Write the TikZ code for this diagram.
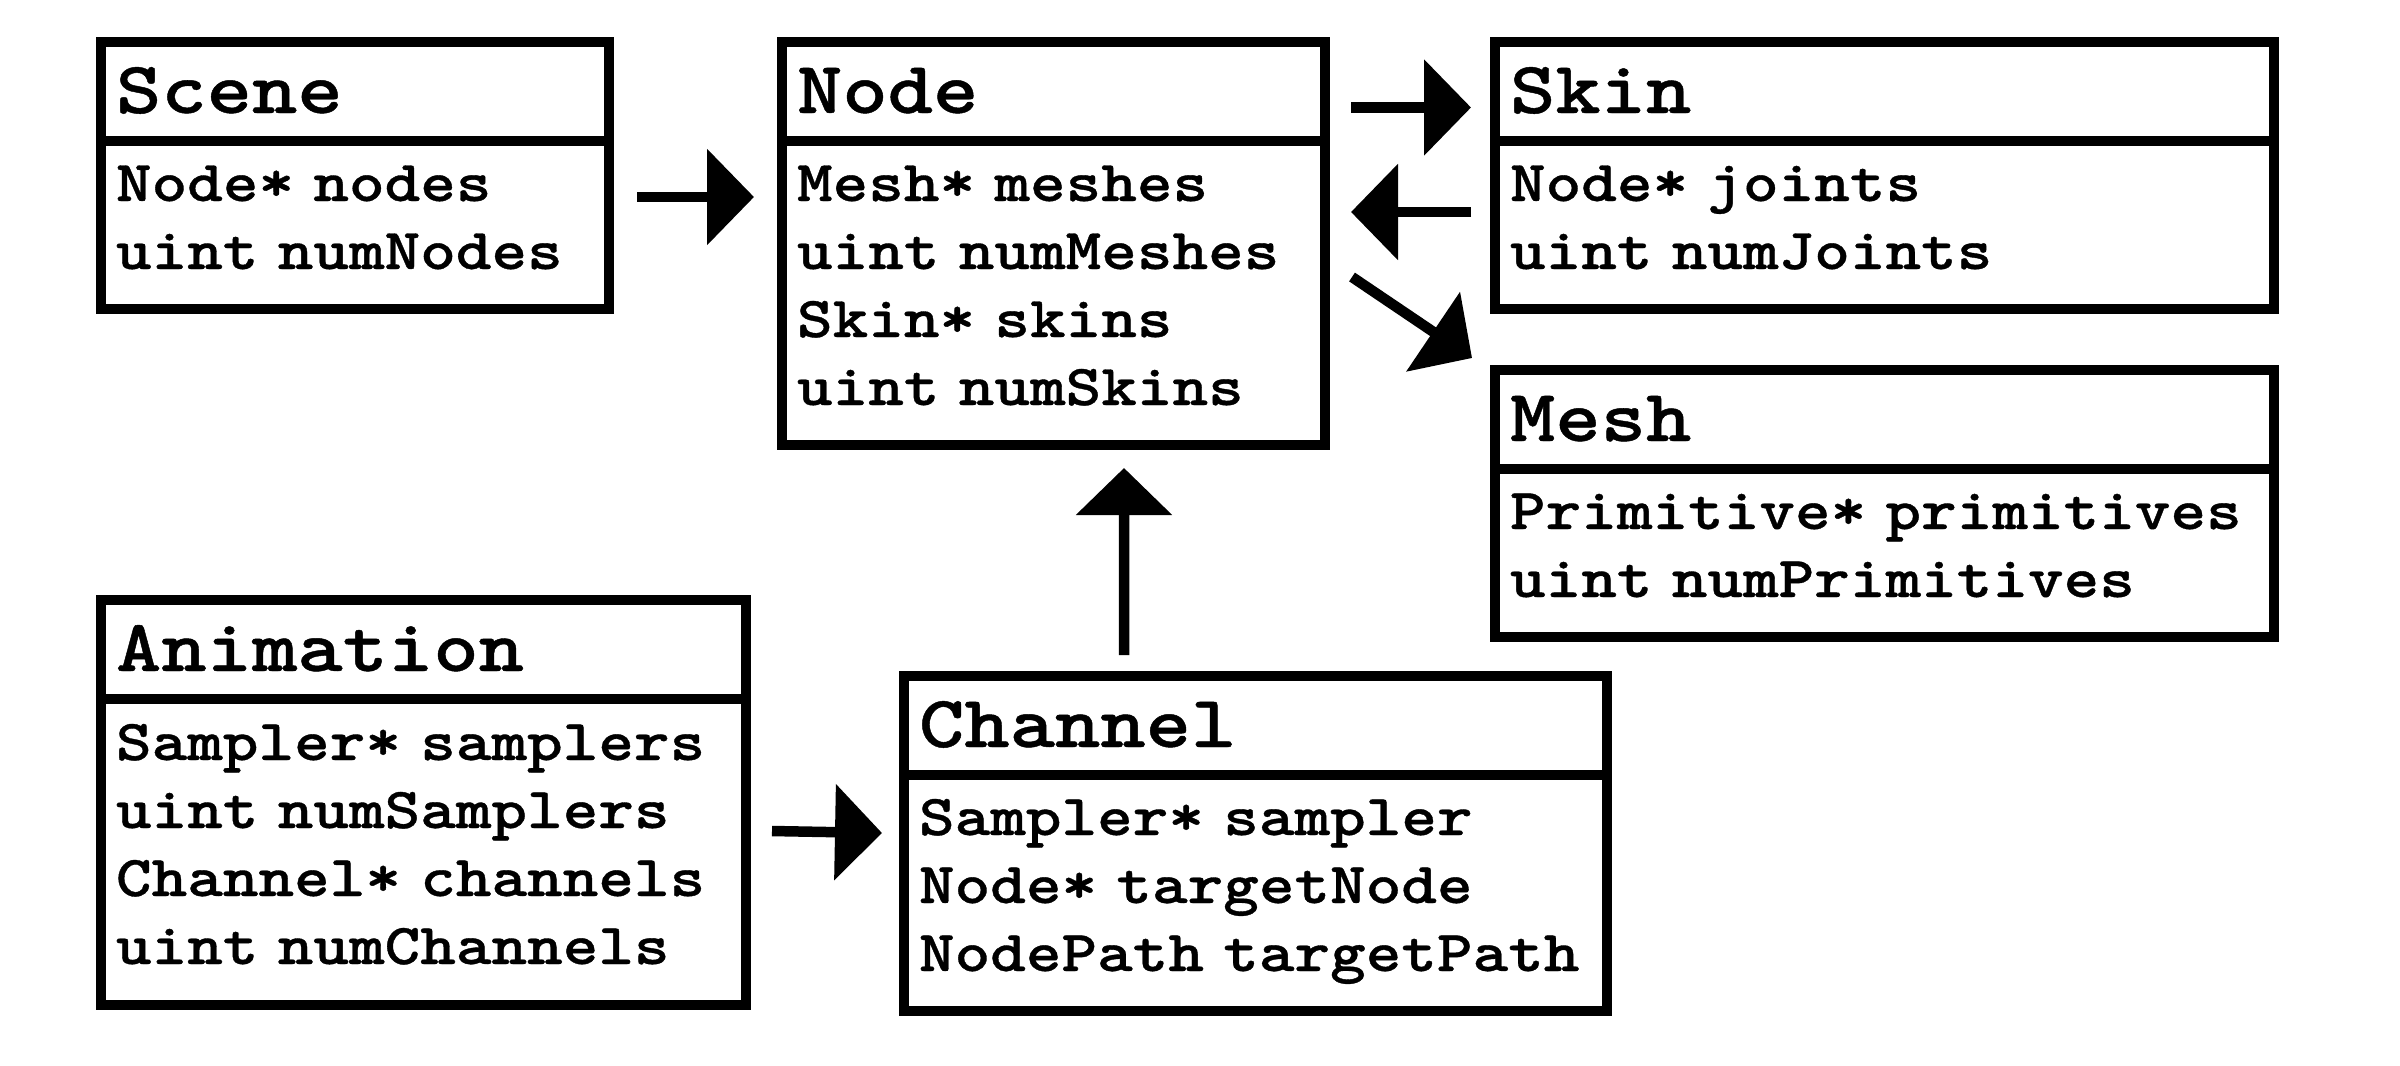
\documentclass[tikz,border=0pt]{standalone}
\usepackage{fontspec}
\usepackage{tikz}
\usetikzlibrary{positioning,arrows.meta,calc}
\newfontfamily\codefont{lmmonolt10-bold.otf}[FakeStretch=1.17,FakeBold=0.6]
\newcommand{\rowstrut}{\rule[-0.32cm]{0pt}{0.84cm}}

\begin{document}
\begin{tikzpicture}[
          box/.style={draw,line width=0.1cm,outer sep=0pt,inner ysep=0pt,inner xsep=0.15cm,align=left},
          head/.style={box,minimum height=0.99cm,text height=0.6cm,text depth=0.17cm,
            font=\codefont\fontsize{21pt}{25pt}\selectfont},
          fields/.style={box,font=\codefont\fontsize{16.5pt}{0.68cm}\selectfont,
            execute at begin node={\lineskiplimit=-10cm\rowstrut},
            execute at end node={\rowstrut}},
          link/.style={line width=0.105cm,-{Triangle[length=0.47cm,width=0.94cm]}}]
        \useasboundingbox (0,0) rectangle (24,-10.65);
        \node[head,anchor=north west,text width=4.78cm] (scenehead) at (1.01,-0.42) {Scene};
        \node[fields,text width=4.78cm,minimum height=1.68cm,below=0pt of scenehead] (scenefields)
          {Node* nodes\\uint numNodes};
        \node[head,anchor=north west,text width=5.13cm] (nodehead) at (7.82,-0.42) {Node};
        \node[fields,text width=5.13cm,minimum height=3.04cm,below=0pt of nodehead] (nodefields)
          {Mesh* meshes\\uint numMeshes\\Skin* skins\\uint numSkins};
        \node[head,anchor=north west,text width=7.49cm] (skinhead) at (14.95,-0.42) {Skin};
        \node[fields,text width=7.49cm,minimum height=1.68cm,below=0pt of skinhead] (skinfields)
          {Node* joints\\uint numJoints};
        \node[head,anchor=north west,text width=7.49cm] (meshhead) at (14.95,-3.70) {Mesh};
        \node[fields,text width=7.49cm,minimum height=1.68cm,below=0pt of meshhead] (meshfields)
          {Primitive* primitives\\uint numPrimitives};
        \node[head,anchor=north west,text width=6.15cm] (animhead) at (1.01,-6.00) {Animation};
        \node[fields,text width=6.15cm,minimum height=3.06cm,below=0pt of animhead] (animfields)
          {Sampler* samplers\\uint numSamplers\\Channel* channels\\uint numChannels};
        \node[head,anchor=north west,text width=6.73cm] (channelhead) at (9.04,-6.76) {Channel};
        \node[fields,text width=6.73cm,minimum height=2.36cm,below=0pt of channelhead] (channelfields)
          {Sampler* sampler\\Node* targetNode\\NodePath targetPath};
        \draw[link] ([shift={(0.28,-0.56)}]scenefields.north east) -- ([shift={(-0.28,-0.56)}]nodefields.north west);
        \draw[link] ([shift={(0.26,-0.655)}]nodehead.north east) -- ([shift={(-0.24,-0.655)}]skinhead.north west);
        \draw[link] ([shift={(-0.24,-0.71)}]skinfields.north west) -- ([shift={(0.26,-0.71)}]nodefields.north east);
        \draw[link] ([shift={(0.27,-1.36)}]nodefields.north east) -- ([shift={(-0.23,0.12)}]meshhead.north west);
        \draw[link] ([shift={(2.2,0.21)}]channelhead.north west) -- ([shift={(3.42,-0.23)}]nodefields.south west);
        \draw[link] ([shift={(0.26,-1.32)}]animfields.north east) -- ([shift={(-0.22,-0.58)}]channelfields.north west);
      \end{tikzpicture}
\end{document}
